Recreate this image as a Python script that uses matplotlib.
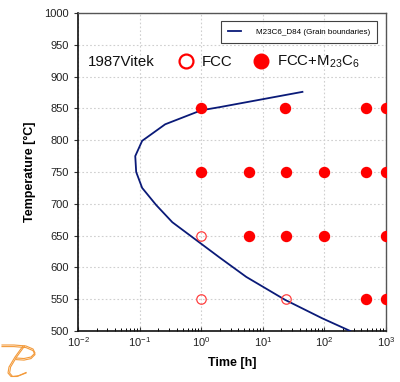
import matplotlib
matplotlib.use("Agg")
import matplotlib.pyplot as plt
from matplotlib.lines import Line2D

plt.rcParams['font.family'] = ['Liberation Sans', 'DejaVu Sans']
plt.rcParams['mathtext.fontset'] = 'custom'
plt.rcParams['mathtext.rm'] = 'Liberation Sans'
plt.rcParams['mathtext.it'] = 'Liberation Sans:italic'

# precipitation start curve (time h, temperature C)
curve_t = [44, 2.0, 1.0, 0.26, 0.11, 0.085, 0.088, 0.11, 0.186, 0.34, 0.83,
           1.96, 5.4, 23, 92, 263, 320]
curve_T = [876, 852, 847, 825, 799, 775, 750, 725, 698, 671, 643,
           616, 585, 549, 520, 500, 494]

# experiments, FCC + M23C6 (filled)
fill_t = [1, 23, 480, 1000, 1, 6, 24, 100, 480, 1000, 6, 24, 100, 1000, 480, 1000]
fill_T = [850, 850, 850, 850, 750, 750, 750, 750, 750, 750, 650, 650, 650, 650, 550, 550]
# experiments, FCC only (open)
open_t = [1, 1, 24]
open_T = [650, 550, 550]

yticks = [500, 550, 600, 650, 700, 750, 800, 850, 900, 950, 1000]

W, H = 400, 382
fig = plt.figure(figsize=(W / 100, H / 100), dpi=100)
ax = fig.add_axes([78 / W, (H - 331) / H, 308 / W, 318 / H])

red = '#ff0000'
ax.plot(curve_t, curve_T, color='#0a1a78', lw=1.3,
        label='M23C6_D84 (Grain boundaries)', zorder=3)
ax.plot(fill_t, fill_T, 'o', color=red, ms=7.2, mec=red, ls='none', zorder=4)
ax.plot(open_t, open_T, 'o', mfc='none', mec='#ff4040', ms=6.8, mew=0.9,
        ls='none', zorder=4)

ax.set_xscale('log')
ax.set_xlim(1e-2, 1e3)
ax.set_ylim(500, 1000)
ax.set_yticks(yticks)
ax.grid(True, which='major', color='#cfcfcf', ls=(0, (1.5, 2)), lw=0.8)

ax.tick_params(axis='both', labelsize=8, colors='#333333', labelcolor='#222222')
ax.tick_params(axis='y', direction='out', length=3, width=0.8)
ax.tick_params(axis='x', which='major', direction='in', length=3, width=0.8, pad=3)
ax.tick_params(axis='x', which='minor', direction='in', length=2, width=0.7)

for s in ['left', 'bottom']:
    ax.spines[s].set_color('#111111')
    ax.spines[s].set_linewidth(1.2)
for s in ['top', 'right']:
    ax.spines[s].set_color('#555555')
    ax.spines[s].set_linewidth(1.0)

ax.set_xlabel('Time [h]', fontsize=9, fontweight='bold', labelpad=6)
ax.set_ylabel('Temperature [°C]', fontsize=9, fontweight='bold', labelpad=6)

leg = ax.legend(loc='upper right', bbox_to_anchor=(0.985, 0.988), fontsize=5.8,
                frameon=True, fancybox=False, edgecolor='#111111',
                handlelength=1.6, borderpad=0.9, handletextpad=1.8)
leg.get_frame().set_linewidth(0.8)

# experimental legend row
ax.text(0.032, 0.846, '1987Vitek', transform=ax.transAxes, fontsize=10.8,
        va='center', ha='left', color='#111111')
h_open = Line2D([], [], marker='o', ls='none', mfc='none', mec=red, mew=1.6, ms=10)
h_fill = Line2D([], [], marker='o', ls='none', color=red, ms=10.5)
leg2 = ax.legend([h_open, h_fill], ['FCC', 'FCC+M$_{23}$C$_6$'], ncol=2,
                 loc='center left', bbox_to_anchor=(0.302, 0.846), frameon=False,
                 fontsize=10.8, handlelength=1.0, handletextpad=0.55,
                 columnspacing=1.4, borderpad=0, labelcolor='#111111')
ax.add_artist(leg)

# logo
lax = fig.add_axes([0, 0, 45 / W, 45 / H])
lax.set_xlim(0, 45)
lax.set_ylim(45, 0)
lax.axis('off')
orange = '#f39a3a'
for d in (0, 1.6):
    lax.plot([2, 14, 26, 33, 35, 31, 24, 16],
             [8 + d, 8 + d, 9 + d, 12 + d, 16 + d, 20 + d, 21.5 + d, 21 + d],
             color=orange, lw=0.8)
    lax.plot([23 + d, 15 + d, 9 + d, 8 + d, 11 + d, 17 + d, 26],
             [9, 20, 30, 36, 39.5, 39.5 - d * 0.5, 36 - d * 0.3],
             color=orange, lw=0.8)

fig.savefig('out.png', dpi=100)
